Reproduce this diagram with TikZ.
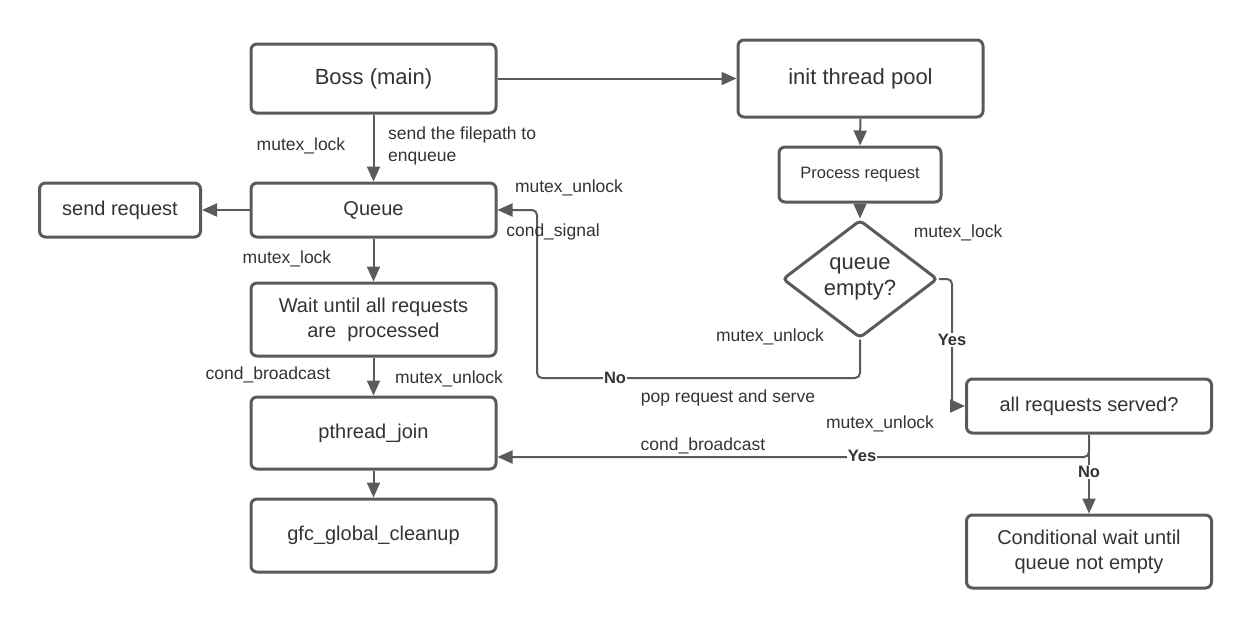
\documentclass[tikz,border=0pt]{standalone}
\usepackage{fontspec}
\setmainfont{Liberation Sans}
\usepackage{xcolor}
\usepackage{tikz}
\usetikzlibrary{positioning}
\usetikzlibrary{shapes.geometric}
\usetikzlibrary{arrows.meta}
\usetikzlibrary{calc}

\definecolor{linegray}{HTML}{5A5A5A}
\definecolor{textgray}{HTML}{333333}

\begin{document}
\begin{tikzpicture}[x=1pt,y=-1pt,
  box/.style={draw=linegray,line width=3pt,rounded corners=6pt,inner sep=0pt,
    align=center,text=textgray,font=\fontsize{20}{25}\selectfont,
    minimum width=245pt},
  cond/.style={diamond,draw=linegray,line width=3pt,rounded corners=4pt,inner sep=0pt,
    align=center,text=textgray,font=\fontsize{22}{26}\selectfont,
    minimum width=155pt,minimum height=118pt},
  conn/.style={draw=linegray,line width=2pt,rounded corners=5pt,
    -{Triangle[length=15pt,width=13pt]}},
  lbl/.style={text=textgray,inner sep=0pt,font=\fontsize{17.5}{22}\selectfont},
  yesno/.style={text=textgray,fill=white,inner sep=1pt,font=\fontsize{16.5}{20}\bfseries}]
\useasboundingbox (0,0) rectangle (1252,627);

% boss thread
\node[box,minimum height=69pt,font=\fontsize{22}{26}\selectfont] (boss) at (373.5,78.5) {Boss (main)};
\node[box,minimum height=54pt] (queue) at (373.5,210) {Queue};
\node[box,minimum width=161pt,minimum height=54pt] (send) at (120,210) {send request};
\node[box,minimum height=73pt] (wait) at (373.5,319.5) {Wait until all requests\\are\ \ processed};
\node[box,minimum height=72pt] (join) at (373.5,433) {pthread\_join};
\node[box,minimum height=73pt] (cleanup) at (373.5,535.5) {gfc\_global\_cleanup};

% worker threads
\node[box,minimum height=77pt,font=\fontsize{22}{26}\selectfont] (init) at (860.5,78.5) {init thread pool};
\node[box,minimum width=162pt,minimum height=55pt,font=\fontsize{16.5}{20}\selectfont] (proc) at (860,174.5) {Process request};
\node[cond] (empty) at (860,279) {queue\\empty?};
\node[box,minimum height=54pt] (served) at (1089,406) {all requests served?};
\node[box,minimum height=73pt] (condwait) at (1089,551.5) {Conditional wait until\\queue not empty};

\coordinate (nobend) at (537,378);
\coordinate (yesbend) at (952,279);
\coordinate (joinbend) at (1089,457);

\draw[conn] (boss) -- (init);
\draw[conn] (init) -- (proc);
\draw[conn] (proc) -- (empty);
\draw[conn] (boss) -- (queue);
\draw[conn] (queue) -- (send);
\draw[conn] (queue) -- (wait);
\draw[conn] (wait) -- (join);
\draw[conn] (join) -- (cleanup);
\draw[conn] (empty.south) |- (nobend) |- (queue.east);
\draw[conn] (empty.east) -- (yesbend) |- (served.west);
\draw[conn] (served.south) |- (join.east |- joinbend);
\draw[conn] (served) -- (condwait);

\node[yesno] (nolbl) at (615,378) {No};
\node[yesno] (yeslbl) at (952,340) {Yes};
\node[yesno] (yesjoin) at (862,456) {Yes};
\node[yesno] (nowait) at (1089,472) {No};

% labels
\node[lbl] (lockboss) at (301,146) {mutex\_lock};
\node[lbl,align=left,anchor=west] (enq) at (388,146) {send the filepath to\\enqueue};
\node[lbl] (unlockq) at (569,188) {mutex\_unlock};
\node[lbl] (signal) at (553,232) {cond\_signal};
\node[lbl] (lockq) at (287,259) {mutex\_lock};
\node[lbl] (bcastw) at (268,375) {cond\_broadcast};
\node[lbl] (unlockw) at (449,379) {mutex\_unlock};
\node[lbl] (lockw) at (958,233) {mutex\_lock};
\node[lbl] (unlocke) at (770,337) {mutex\_unlock};
\node[lbl] (pop) at (728,398) {pop request and serve};
\node[lbl] (unlocks) at (880,424) {mutex\_unlock};
\node[lbl] (bcasts) at (703,446) {cond\_broadcast};
\end{tikzpicture}
\end{document}
